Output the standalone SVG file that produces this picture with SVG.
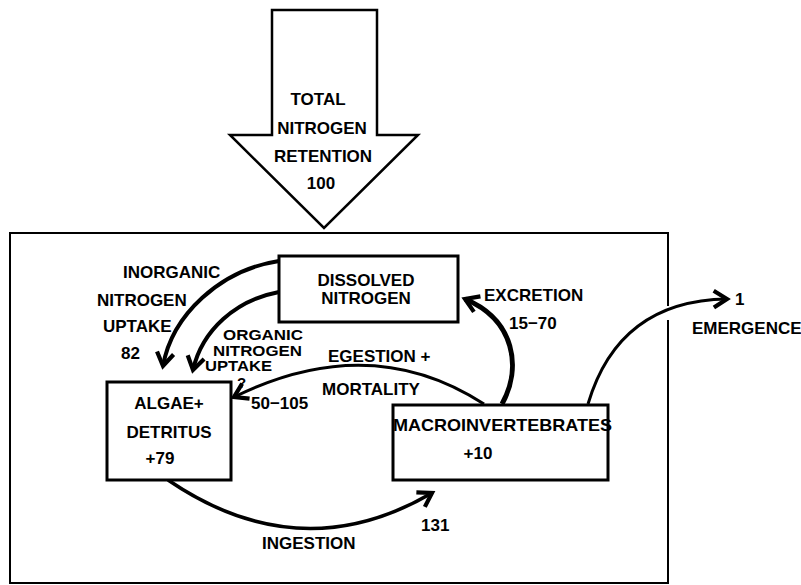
<svg xmlns="http://www.w3.org/2000/svg" width="801" height="585" viewBox="0 0 801 585">
<style>
text{font-family:"Liberation Sans",Arial,sans-serif;font-weight:bold;font-size:17px;fill:#000}
.c{text-anchor:middle}
.s{font-size:15px}
.box{fill:#fff;stroke:#000;stroke-width:3}
.ln{fill:none;stroke:#000}
</style>
<defs>
<marker id="ah" markerUnits="userSpaceOnUse" markerWidth="24" markerHeight="24" viewBox="-14 -10 18 20" refX="0" refY="0" orient="auto">
<path d="M-11,-7 L0,0 L-11,7" fill="none" stroke="#000" stroke-width="3.5" stroke-linejoin="miter"/>
</marker>
</defs>
<rect width="801" height="585" fill="#fff"/>
<g id="outer">
<path d="M668,306 L668,233 L10,233 L10,583 L668,583 L668,320" class="ln" stroke-width="2"/>
</g>
<g id="total">
<polygon points="272,10 377,10 377,135 418,135 324,228 230,135 272,135" fill="#fff" stroke="#000" stroke-width="2.5"/>
<text class="c" x="318" y="105">TOTAL</text>
<text class="c" x="322" y="134">NITROGEN</text>
<text class="c" x="323" y="162">RETENTION</text>
<text class="c" x="321" y="189">100</text>
</g>
<g id="connectors">
<path class="ln" stroke-width="4" d="M279,261 C220,270 172,315 163,366" marker-end="url(#ah)"/>
<path class="ln" stroke-width="4" d="M279,292 C236,300 202,330 193,370" marker-end="url(#ah)"/>
<path class="ln" stroke-width="3" d="M484,404 Q370,330 234,397" marker-end="url(#ah)"/>
<path class="ln" stroke-width="5" d="M502,404 C522,368 515,320 465,299" marker-end="url(#ah)"/>
<path class="ln" stroke-width="3" d="M588,404 C610,330 660,300 727,299" marker-end="url(#ah)"/>
<path class="ln" stroke-width="3.5" d="M168,480 Q300,570 432,493" marker-end="url(#ah)"/>
</g>
<g id="dissolved">
<rect class="box" x="279" y="256" width="179" height="66"/>
<text class="c" x="366" y="286">DISSOLVED</text>
<text class="c" x="366" y="304">NITROGEN</text>
</g>
<g id="algae">
<rect class="box" x="107" y="382" width="124" height="98" stroke-width="2.5"/>
<text class="c" x="169" y="409">ALGAE+</text>
<text class="c" x="169" y="438">DETRITUS</text>
<text class="c" x="160" y="464">+79</text>
</g>
<g id="macro">
<rect class="box" x="393" y="405" width="215" height="75" stroke-width="2.5"/>
<text x="393" y="431" textLength="219" lengthAdjust="spacingAndGlyphs">MACROINVERTEBRATES</text>
<text class="c" x="478" y="459">+10</text>
</g>
<g id="labels">
<text x="123" y="278">INORGANIC</text>
<text x="97" y="306">NITROGEN</text>
<text x="103" y="332">UPTAKE</text>
<text x="121" y="359">82</text>
<text class="s" x="223" y="340" textLength="80" lengthAdjust="spacingAndGlyphs">ORGANIC</text>
<text class="s" x="213" y="356" textLength="89" lengthAdjust="spacingAndGlyphs">NITROGEN</text>
<text class="s" x="205" y="371" textLength="67" lengthAdjust="spacingAndGlyphs">UPTAKE</text>
<text class="s" x="237" y="388">?</text>
<text x="251" y="409">50−105</text>
<text x="328" y="362">EGESTION +</text>
<text x="322" y="395">MORTALITY</text>
<text x="484" y="301">EXCRETION</text>
<text x="509" y="329">15−70</text>
<text x="735" y="305">1</text>
<text x="692" y="334">EMERGENCE</text>
<text x="421" y="531">131</text>
<text x="262" y="549">INGESTION</text>
</g>
</svg>
